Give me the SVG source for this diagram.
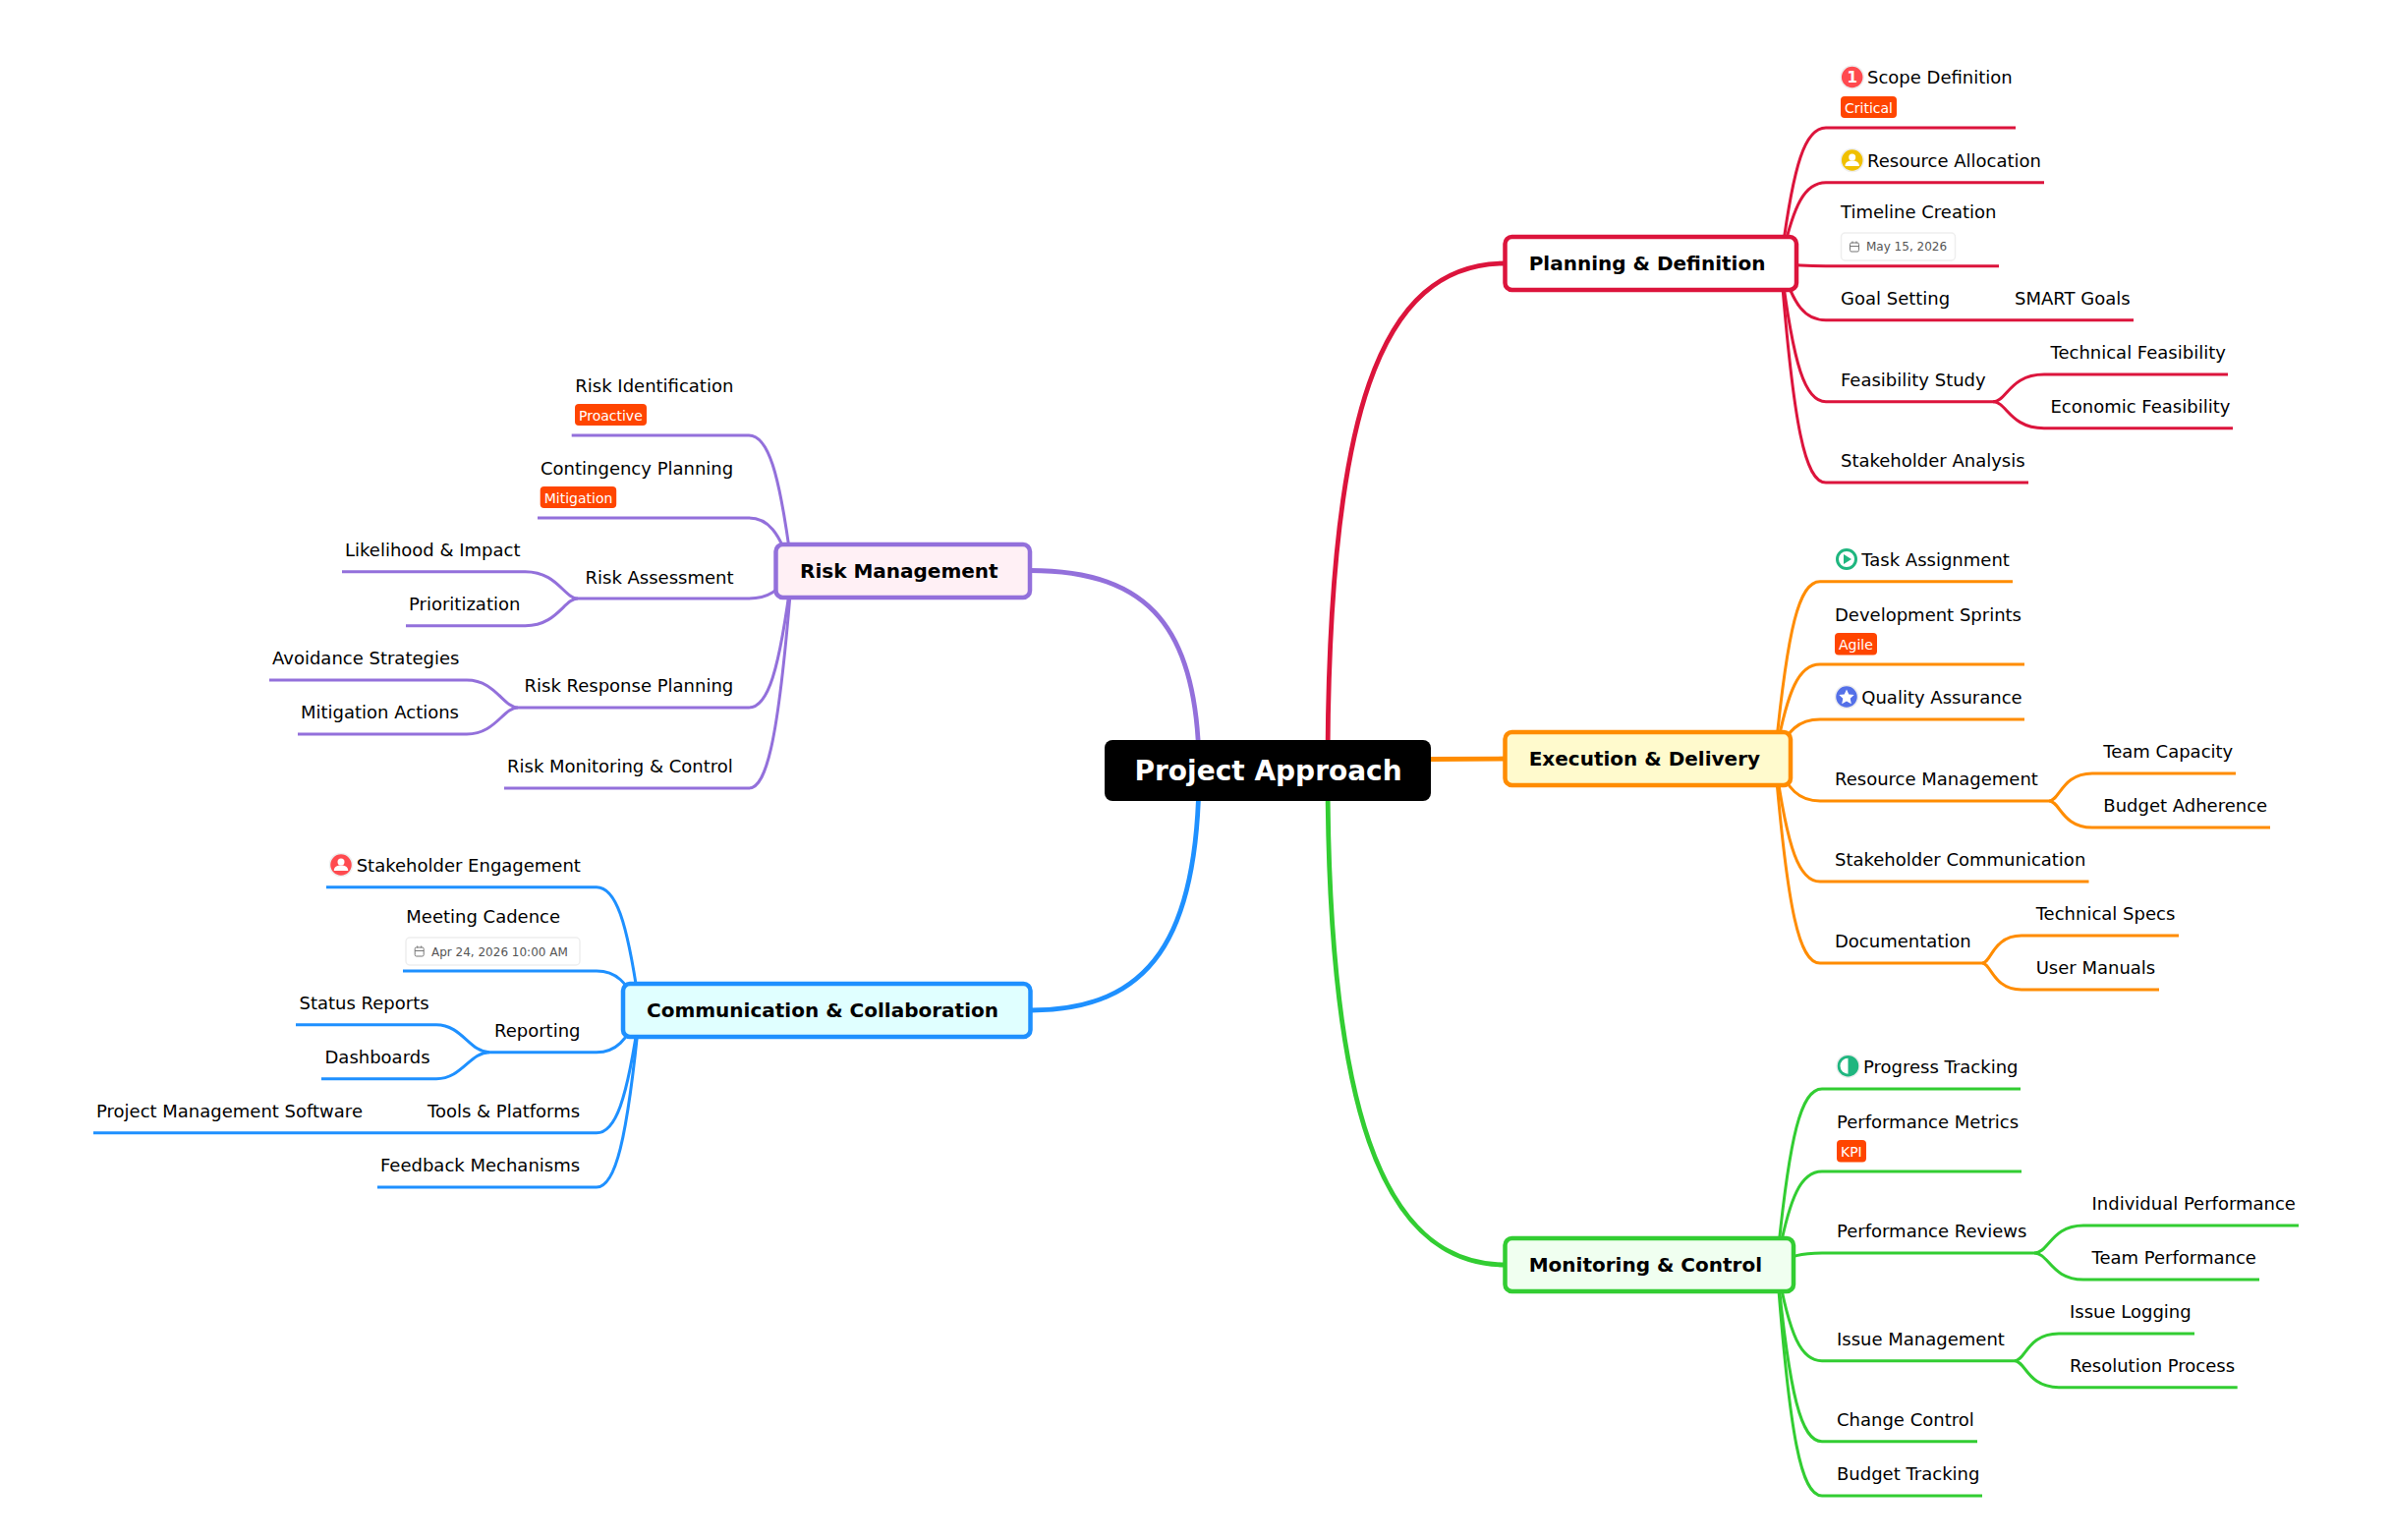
<svg xmlns="http://www.w3.org/2000/svg" width="2434" height="1567" viewBox="0 0 2434 1567">
<style>
text{font-family:"DejaVu Sans","Liberation Sans",sans-serif;fill:#000}
.t{font-size:18px}
.m{font-size:20px;font-weight:700}
.r{font-size:28px;font-weight:700;fill:#fff}
.b{font-size:14px;fill:#fff}
.d{font-size:12px;fill:#555}
.bg{fill:#ff4500}
.chip{fill:#fff;stroke:#eee;stroke-width:1.5}
.cal{fill:none;stroke:#777;stroke-width:1}
.box{stroke-width:4.5}
.ln{fill:none;stroke-width:3;stroke-linecap:butt}
.mn{fill:none;stroke-width:4.8}
.halo{stroke:#eee;stroke-width:1.5}
.red{stroke:#dc143c}.org{stroke:#ff8c00}.grn{stroke:#32cd32}.pur{stroke:#9370db}.blu{stroke:#1e90ff}
</style>
<g id="connectors">
<g class="mn">
<path class="red mn" d="M1351 784C1351 423 1403 268 1532 268"/>
<path class="org mn" d="M1456 772.500C1480 772.500 1505 772 1532 772"/>
<path class="grn mn" d="M1351 784C1351 1120 1403 1287 1532 1287"/>
<path class="pur mn" d="M1220 784C1220 640 1170 580.500 1048 580.500"/>
<path class="blu mn" d="M1220 784C1220 955 1170 1028 1049 1028"/>
</g>
<g id="planning-lines">
<path class="ln red" d="M1812 268C1825 164.500 1837 130 1858 130H2051"/>
<path class="ln red" d="M1812 268C1825 206.300 1837 185.700 1858 185.700H2080"/>
<path class="ln red" d="M1812 268C1825 270 1837 270.700 1858 270.700H2034"/>
<path class="ln red" d="M1812 268C1825 311.300 1837 325.700 1858 325.700H2171"/>
<path class="ln red" d="M1812 268C1825 373.500 1837 408.700 1858 408.700H2028"/>
<path class="ln red" d="M1812 268C1825 435.300 1837 491 1858 491H2064"/>
<path class="ln red" d="M2028 408.700C2042 408.700 2045 381 2080 381H2267"/>
<path class="ln red" d="M2028 408.700C2042 408.700 2045 435.700 2080 435.700H2272"/>
</g>
<g id="execution-lines">
<path class="ln org" d="M1806 772C1819 636.800 1831 591.700 1852 591.700H2048"/>
<path class="ln org" d="M1806 772C1819 700 1831 676 1852 676H2060"/>
<path class="ln org" d="M1806 772C1819 742 1831 732 1852 732H2060"/>
<path class="ln org" d="M1806 772C1819 804 1831 815 1852 815H2085"/>
<path class="ln org" d="M1806 772C1819 865.800 1831 897 1852 897H2125.500"/>
<path class="ln org" d="M1806 772C1819 928 1831 980 1852 980H2017"/>
<path class="ln org" d="M2085 815C2096 815 2098 787 2129 787H2275"/>
<path class="ln org" d="M2085 815C2096 815 2098 842 2129 842H2310"/>
<path class="ln org" d="M2017 980C2026 980 2028 952 2057 952H2217"/>
<path class="ln org" d="M2017 980C2026 980 2028 1007 2057 1007H2197"/>
</g>
<g id="monitoring-lines">
<path class="ln grn" d="M1808 1287C1821 1152.800 1833 1108 1854 1108H2056"/>
<path class="ln grn" d="M1808 1287C1821 1215.800 1833 1192 1854 1192H2057"/>
<path class="ln grn" d="M1808 1287C1821 1278 1833 1275 1854 1275H2070"/>
<path class="ln grn" d="M1808 1287C1821 1360.300 1833 1384.700 1854 1384.700H2050"/>
<path class="ln grn" d="M1808 1287C1821 1421.800 1833 1466.700 1854 1466.700H2012"/>
<path class="ln grn" d="M1808 1287C1821 1463.300 1833 1522 1854 1522H2017"/>
<path class="ln grn" d="M2070 1275C2085 1275 2087 1247 2120 1247H2339"/>
<path class="ln grn" d="M2070 1275C2085 1275 2087 1302 2120 1302H2299"/>
<path class="ln grn" d="M2050 1384.700C2061 1384.700 2063 1357 2095 1357H2233"/>
<path class="ln grn" d="M2050 1384.700C2061 1384.700 2063 1411.700 2095 1411.700H2276.700"/>
</g>
<g id="risk-lines">
<path class="ln pur" d="M806 580.500C793 477.400 781 443 762 443H581.700"/>
<path class="ln pur" d="M806 580.500C793 540.400 781 527 762 527H547"/>
<path class="ln pur" d="M806 580.500C793 601.900 781 609 762 609H588"/>
<path class="ln pur" d="M806 580.500C793 685.100 781 720 762 720H527"/>
<path class="ln pur" d="M806 580.500C793 746.600 781 802 762 802H513"/>
<path class="ln pur" d="M588 609C574 609 567 581.700 534.500 581.700H348"/>
<path class="ln pur" d="M588 609C574 609 567 636.700 534.500 636.700H413"/>
<path class="ln pur" d="M527 720C512 720 504 692 475 692H274"/>
<path class="ln pur" d="M527 720C512 720 504 747 475 747H303"/>
</g>
<g id="communication-lines">
<path class="ln blu" d="M651 1028C638 934 626 902.700 607 902.700H332"/>
<path class="ln blu" d="M651 1028C638 998 626 988 607 988H410"/>
<path class="ln blu" d="M651 1028C638 1060 626 1070.700 607 1070.700H498"/>
<path class="ln blu" d="M651 1028C638 1121.500 626 1152.700 607 1152.700H95"/>
<path class="ln blu" d="M651 1028C638 1163 626 1208 607 1208H384"/>
<path class="ln blu" d="M498 1070.700C478 1070.700 470 1042.700 444 1042.700H301"/>
<path class="ln blu" d="M498 1070.700C478 1070.700 470 1097.700 444 1097.700H327"/>
</g>
</g>
<g id="root"><rect x="1124" y="753" width="332" height="62" rx="8" fill="#000"/><text class="r" x="1154.500" y="794">Project Approach</text></g>
<g id="planning"><rect class="box red" x="1531.500" y="241" width="296.500" height="54" rx="7" fill="#fff"/><text class="m" x="1555.700" y="275">Planning &amp; Definition</text></g>
<g id="execution"><rect class="box org" x="1531.500" y="745" width="290.500" height="54" rx="7" fill="#fffacd"/><text class="m" x="1555.700" y="779">Execution &amp; Delivery</text></g>
<g id="monitoring"><rect class="box grn" x="1531.500" y="1260" width="293.500" height="54" rx="7" fill="#f0fff0"/><text class="m" x="1555.700" y="1294">Monitoring &amp; Control</text></g>
<g id="risk"><rect class="box pur" x="789.500" y="554" width="258.500" height="54" rx="7" fill="#fff0f5"/><text class="m" x="814" y="588">Risk Management</text></g>
<g id="communication"><rect class="box blu" x="634" y="1001" width="414.500" height="54" rx="7" fill="#e0ffff"/><text class="m" x="658" y="1035">Communication &amp; Collaboration</text></g>
<g id="n-scope"><circle class="halo" cx="1884.700" cy="78.500" r="11.500" fill="#ff4a4f"/><text x="1884.700" y="84" text-anchor="middle" style="font-size:15px;font-weight:700;fill:#fff">1</text><text class="t" x="1900" y="85">Scope Definition</text><rect class="bg" x="1873" y="98" width="57" height="22" rx="4"/><text class="b" x="1877" y="115">Critical</text></g>
<g id="n-resource"><circle class="halo" cx="1884.700" cy="163" r="11.500" fill="#f0c000"/><circle cx="1884.700" cy="160" r="3.500" fill="#fff"/><path d="M1877.500 169c0-4 3-5.500 7.200-5.500s7.200 1.500 7.200 5.500z" fill="#fff"/><text class="t" x="1900" y="170">Resource Allocation</text></g>
<g id="n-timeline"><text class="t" x="1873" y="222">Timeline Creation</text><rect class="chip" x="1873.500" y="237" width="116" height="28" rx="4"/><rect class="cal" x="1882.500" y="247" width="9" height="9" rx="1.500"/><path class="cal" d="M1882.500 250.500h9M1885 245.500v2M1889 245.500v2"/><text class="d" x="1899" y="255">May 15, 2026</text></g>
<g id="n-goal"><text class="t" x="1873" y="310">Goal Setting</text><text class="t" x="2050" y="310">SMART Goals</text></g>
<g id="n-feasibility"><text class="t" x="1873" y="393">Feasibility Study</text><text class="t" x="2086.500" y="365">Technical Feasibility</text><text class="t" x="2086.500" y="420">Economic Feasibility</text></g>
<g id="n-stakeholder-analysis"><text class="t" x="1873" y="475">Stakeholder Analysis</text></g>
<g id="n-task"><circle cx="1879" cy="569" r="9.500" fill="#fff" stroke="#1fb67f" stroke-width="3"/><path d="M1876 564l8 5-8 5z" fill="#1fb67f"/><text class="t" x="1894.300" y="576">Task Assignment</text></g>
<g id="n-sprints"><text class="t" x="1867" y="632">Development Sprints</text><rect class="bg" x="1867" y="644" width="43" height="22.500" rx="4"/><text class="b" x="1871" y="661">Agile</text></g>
<g id="n-quality"><circle class="halo" cx="1879" cy="709" r="11.500" fill="#5470e8"/><path d="M1879 701.500l2.300 5 5.400.6-4 3.700 1.100 5.400-4.800-2.700-4.800 2.700 1.100-5.400-4-3.700 5.400-.6z" fill="#fff"/><text class="t" x="1894.300" y="716">Quality Assurance</text></g>
<g id="n-resmgmt"><text class="t" x="1867" y="799">Resource Management</text><text class="t" x="2140.300" y="771">Team Capacity</text><text class="t" x="2140.300" y="826">Budget Adherence</text></g>
<g id="n-comm"><text class="t" x="1867" y="881">Stakeholder Communication</text></g>
<g id="n-doc"><text class="t" x="1867" y="964">Documentation</text><text class="t" x="2071.700" y="936">Technical Specs</text><text class="t" x="2071.700" y="991">User Manuals</text></g>
<g id="n-progress"><circle class="halo" cx="1880.500" cy="1084.700" r="11.500" fill="#1fb67f"/><path d="M1880.500 1076.700a8 8 0 0 0 0 16z" fill="#fff"/><text class="t" x="1896" y="1092">Progress Tracking</text></g>
<g id="n-metrics"><text class="t" x="1869" y="1148">Performance Metrics</text><rect class="bg" x="1869" y="1160" width="30" height="22.500" rx="4"/><text class="b" x="1873" y="1177">KPI</text></g>
<g id="n-reviews"><text class="t" x="1869" y="1259">Performance Reviews</text><text class="t" x="2128.500" y="1231">Individual Performance</text><text class="t" x="2128.500" y="1286">Team Performance</text></g>
<g id="n-issue"><text class="t" x="1869" y="1369">Issue Management</text><text class="t" x="2106" y="1341">Issue Logging</text><text class="t" x="2106" y="1396">Resolution Process</text></g>
<g id="n-change"><text class="t" x="1869" y="1451">Change Control</text></g>
<g id="n-budget"><text class="t" x="1869" y="1506">Budget Tracking</text></g>
<g id="n-riskid"><text class="t" x="585.300" y="399">Risk Identification</text><rect class="bg" x="585" y="411" width="73" height="22" rx="4"/><text class="b" x="589" y="428">Proactive</text></g>
<g id="n-contingency"><text class="t" x="550" y="483">Contingency Planning</text><rect class="bg" x="549.700" y="495" width="77.500" height="22" rx="4"/><text class="b" x="553.700" y="512">Mitigation</text></g>
<g id="n-assess"><text class="t" x="595.500" y="594">Risk Assessment</text><text class="t" x="351" y="566">Likelihood &amp; Impact</text><text class="t" x="416" y="621">Prioritization</text></g>
<g id="n-response"><text class="t" x="533.500" y="704">Risk Response Planning</text><text class="t" x="277" y="676">Avoidance Strategies</text><text class="t" x="306" y="731">Mitigation Actions</text></g>
<g id="n-monitoring"><text class="t" x="516" y="786">Risk Monitoring &amp; Control</text></g>
<g id="n-engage"><circle class="halo" cx="347" cy="880" r="11.500" fill="#ff4a4f"/><circle cx="347" cy="877" r="3.500" fill="#fff"/><path d="M339.800 886c0-4 3-5.500 7.200-5.500s7.200 1.500 7.200 5.500z" fill="#fff"/><text class="t" x="362.700" y="887">Stakeholder Engagement</text></g>
<g id="n-meeting"><text class="t" x="413.300" y="939">Meeting Cadence</text><rect class="chip" x="413" y="954" width="177" height="28" rx="4"/><rect class="cal" x="422.200" y="964" width="9" height="9" rx="1.500"/><path class="cal" d="M422.200 967.500h9M424.700 962.500v2M428.700 962.500v2"/><text class="d" x="439" y="973">Apr 24, 2026 10:00 AM</text></g>
<g id="n-reporting"><text class="t" x="503" y="1055">Reporting</text><text class="t" x="304.500" y="1027">Status Reports</text><text class="t" x="330.500" y="1082">Dashboards</text></g>
<g id="n-tools"><text class="t" x="435" y="1137">Tools &amp; Platforms</text><text class="t" x="98" y="1137">Project Management Software</text></g>
<g id="n-feedback"><text class="t" x="387" y="1192">Feedback Mechanisms</text></g>
</svg>
